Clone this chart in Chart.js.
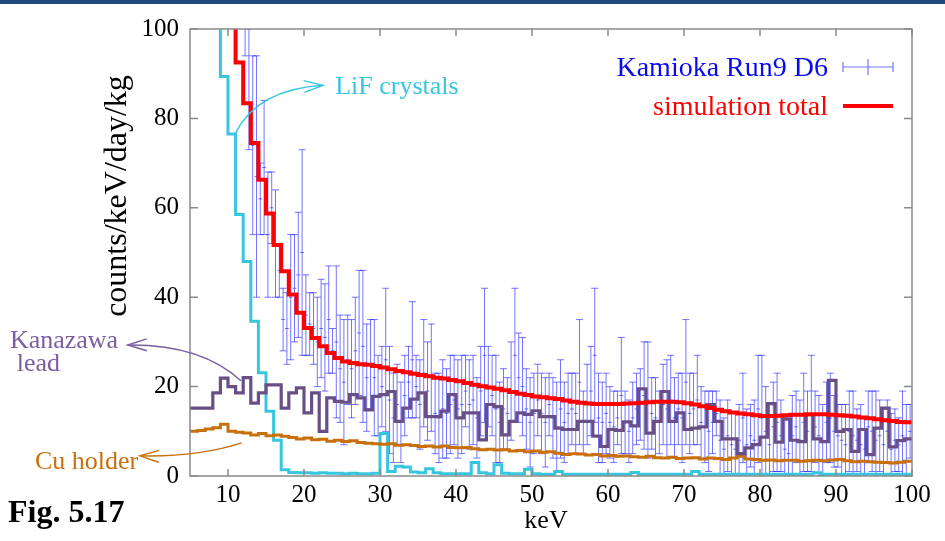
<!DOCTYPE html>
<html><head><meta charset="utf-8">
<script src="https://cdn.jsdelivr.net/npm/chart.js@4.4.1/dist/chart.umd.min.js"></script>
<style>
html,body{margin:0;padding:0;background:#fff;}
#wrap{position:relative;width:945px;height:541px;overflow:hidden;}
#topbar{position:absolute;left:0;top:0;width:945px;height:4px;background:#1f4a7c;}
canvas{position:absolute;left:0;top:0;}
</style></head>
<body><div id="wrap"><canvas id="c" width="945" height="541"></canvas><div id="topbar"></div></div>
<script>
// ---------- tick labels ----------
const xTickValues = [10,20,30,40,50,60,70,80,90,100];
const yTickValues = [0,20,40,60,80,100];

// ---------- simulation histograms: 1 keV bins, edges 5..100 ----------
const histEdges = [5,6,7,8,9,10,11,12,13,14,15,16,17,18,19,20,21,22,23,24,25,26,27,28,29,30,31,32,33,34,35,36,37,38,39,40,41,42,43,44,45,46,47,48,49,50,51,52,53,54,55,56,57,58,59,60,61,62,63,64,65,66,67,68,69,70,71,72,73,74,75,76,77,78,79,80,81,82,83,84,85,86,87,88,89,90,91,92,93,94,95,96,97,98,99,100];

const simTotal = [140,135,130,125,115,106,92.5,83.4,74.5,66.3,58.7,51.7,45.8,40.6,36.5,33.1,30.9,29.0,27.5,26.4,25.6,25.3,25.0,24.9,24.6,24.3,23.9,23.5,23.2,22.9,22.6,22.3,22.0,21.8,21.5,21.2,20.8,20.4,20.1,19.8,19.5,19.2,18.8,18.4,18.1,17.8,17.6,17.4,17.2,16.9,16.6,16.4,16.2,16.1,16.1,16.1,16.1,16.2,16.3,16.4,16.5,16.6,16.6,16.6,16.5,16.3,16.0,15.6,15.2,14.8,14.5,14.2,14.0,13.8,13.6,13.4,13.4,13.5,13.6,13.7,13.7,13.8,13.8,13.8,13.7,13.6,13.5,13.3,13.1,12.9,12.7,12.5,12.3,12.1,12.0];

const lifCrystals = [130,130,130,125,89.4,76.5,58.5,48,34.6,23.1,14.5,8,1.4,0.8,0.7,0.7,0.6,0.7,0.6,0.6,0.5,0.6,0.5,0.5,0.6,9.5,1.0,2.2,2.0,0.9,0.7,1.6,0.7,0.5,0.5,0.5,0.5,3.0,0.7,0.5,2.5,0.6,0.5,0.5,1.5,0.5,0.4,0.4,1.0,0.4,0.4,0.4,0.4,0.4,0.4,0.4,0.4,0.4,0.8,0.4,0.4,0.4,0.4,0.4,0.4,0.4,1.0,0.4,0.4,0.4,0.4,0.4,0.4,0.4,0.4,0.4,0.4,0.4,0.4,0.4,0.4,0.4,0.7,0.4,0.4,0.4,0.4,0.4,0.4,0.4,0.4,0.4,0.4,0.4,0.4];

const kanazawaLead = [15.2,15.2,15.2,18.6,21.9,20.0,18.6,22.0,16.3,18.6,20.4,20.4,15.2,18.6,19.7,14.1,18.6,10.0,17.5,16.7,16.5,18.2,17.5,14.8,17.8,18.2,18.9,12.2,15.2,17.2,18.6,13.3,13.3,14.5,18.2,13.0,14.1,14.1,8.1,16.0,15.5,9.2,12.2,14.1,13.8,14.6,13.3,13.3,10.7,10.4,10.4,12.2,12.2,8.9,6.6,10.4,10.2,12.1,11.2,19.5,9.6,12.2,18.9,12.2,14.1,10.4,10.7,11.0,16.0,12.2,8.3,8.3,5.0,6.3,7.0,8.7,16.2,7.6,12.7,8.0,7.7,13.7,8.3,7.7,21.4,10.0,10.4,5.5,10.4,4.8,10.7,15.2,6.5,7.9,8.3];

const cuHolder = [10.0,10.2,10.5,10.8,11.6,10.0,9.8,9.6,9.2,9.5,9.0,9.2,8.9,8.6,8.3,8.5,8.1,8.2,7.8,8.0,7.7,7.9,7.5,7.3,7.2,7.1,7.2,6.9,7.0,6.8,6.6,6.7,6.5,6.7,6.4,6.3,6.4,6.1,5.9,6.0,5.8,5.9,5.6,5.7,5.4,5.6,5.3,5.4,5.1,4.8,5.0,4.9,4.7,4.8,4.5,4.6,4.4,4.5,4.3,4.2,4.4,4.1,4.0,4.2,3.9,4.0,4.1,3.8,4.0,3.9,3.7,4.0,4.4,3.8,3.7,3.5,3.6,3.4,3.5,3.5,3.3,3.4,3.5,3.4,3.6,3.7,3.4,3.2,3.3,3.2,3.1,3.0,2.9,3.1,3.3];

// ---------- measured data Kamioka Run9 D6: 0.5 keV bins ----------
const dataKeV = [5.25,5.75,6.25,6.75,7.25,7.75,8.25,8.75,9.25,9.75,10.25,10.75,11.25,11.75,12.25,12.75,13.25,13.75,14.25,14.75,15.25,15.75,16.25,16.75,17.25,17.75,18.25,18.75,19.25,19.75,20.25,20.75,21.25,21.75,22.25,22.75,23.25,23.75,24.25,24.75,25.25,25.75,26.25,26.75,27.25,27.75,28.25,28.75,29.25,29.75,30.25,30.75,31.25,31.75,32.25,32.75,33.25,33.75,34.25,34.75,35.25,35.75,36.25,36.75,37.25,37.75,38.25,38.75,39.25,39.75,40.25,40.75,41.25,41.75,42.25,42.75,43.25,43.75,44.25,44.75,45.25,45.75,46.25,46.75,47.25,47.75,48.25,48.75,49.25,49.75,50.25,50.75,51.25,51.75,52.25,52.75,53.25,53.75,54.25,54.75,55.25,55.75,56.25,56.75,57.25,57.75,58.25,58.75,59.25,59.75,60.25,60.75,61.25,61.75,62.25,62.75,63.25,63.75,64.25,64.75,65.25,65.75,66.25,66.75,67.25,67.75,68.25,68.75,69.25,69.75,70.25,70.75,71.25,71.75,72.25,72.75,73.25,73.75,74.25,74.75,75.25,75.75,76.25,76.75,77.25,77.75,78.25,78.75,79.25,79.75,80.25,80.75,81.25,81.75,82.25,82.75,83.25,83.75,84.25,84.75,85.25,85.75,86.25,86.75,87.25,87.75,88.25,88.75,89.25,89.75,90.25,90.75,91.25,91.75,92.25,92.75,93.25,93.75,94.25,94.75,95.25,95.75,96.25,96.75,97.25,97.75,98.25,98.75,99.25,99.75];
const dataVal = [420,400,380,350,330,300,280,250,230,210,190,175,160,150,125,100,74,67,62,69,54,60,52,46,35,33,40,42,45,50,36,34,33,30,33,31,35,28,30,24,21,26,24,28,32,29,22,25,22,18,20,26,17,13,16,12,18,21,26,20,16,23,19,22,14,13,15,14,16,17,15,16,19,16,17,13,19,27,20,18,15,12,15,14,19,27,22,20,15,12,14,17,14,12,16,13,11,15,12,14,15,14,21,12,16,19,27,13,12,14,12,11,13,18,12,10,13,15,16,18,17,14,13,12,16,15,17,13,15,13,21,14,15,17,12,11,10,12,14,8,6,9,7,6,8,13,7,9,8,15,13,10,7,11,12,9,6,5,9,11,8,12,10,14,11,9,8,12,13,10,9,8,7,10,9,8,7,6,11,10,8,9,7,10,6,8,7,9,8,10];
const dataErr = [59,58,56,54,52,50,48,46,44,42,40,38,36,35,31,27,20,27,8,15,14,8,12,6,7,8,14,12,14,23,9,7,8,10,11,12,12,5,17,12,14,10,11,12,14,17,12,10,13,9,9,16,12,10,9,9,9,8,13,7,10,12,11,12,9,10,11,10,11,10,11,11,8,10,10,9,10,15,9,9,12,9,9,8,11,15,10,11,9,10,9,8,9,10,7,9,10,11,9,9,8,9,14,7,9,10,15,10,9,9,8,8,6,13,7,7,8,8,8,12,13,8,9,7,9,11,10,9,8,10,14,9,8,10,8,8,9,7,5,9,7,8,7,8,8,10,8,7,9,12,14,10,9,10,11,8,7,8,9,8,9,11,9,13,8,9,8,9,10,8,7,8,9,9,10,7,9,7,8,9,11,8,8,7,8,7,6,10,8,6];

// ---------- build library data ----------
function histPoints(edges, vals){
  const pts = vals.map((v,i)=>({x:edges[i], y:v}));
  pts.push({x:edges[edges.length-1], y:vals[vals.length-1]});
  return pts;
}
const errColor = 'rgba(25,25,255,0.6)';
const barData = dataKeV.map((k,i)=>({x:k, y:[dataVal[i]-dataErr[i], dataVal[i]+dataErr[i]]}));
const capHi = dataKeV.map((k,i)=>({x:k, y:dataVal[i]+dataErr[i]}));
const capLo = dataKeV.map((k,i)=>({x:k, y:dataVal[i]-dataErr[i]}));
const ctrPts = dataKeV.map((k,i)=>({x:k, y:dataVal[i]}));

const SERIF = '"Liberation Serif","DejaVu Serif",serif';
const RED='#ff0000', CYAN='#38c6de', PURPLE='#685086', ORANGE='#c8700c';

const decor = {
  id:'decor',
  beforeDraw(chart){
    const c=chart.ctx; c.save(); c.fillStyle='#fff'; c.fillRect(0,0,chart.width,chart.height); c.restore();
  },
  afterDraw(chart){
    const c = chart.ctx, a = chart.chartArea, X = chart.scales.x, Y = chart.scales.y;
    const P = (kx,vy)=>[X.getPixelForValue(kx), Y.getPixelForValue(vy)];
    c.save();
    // frame
    c.strokeStyle='#8a8a8a'; c.lineWidth=1.5;
    c.strokeRect(a.left, a.top, a.right-a.left, a.bottom-a.top);
    // inward ticks on all four sides
    c.beginPath();
    xTickValues.forEach(v=>{const px=X.getPixelForValue(v); c.moveTo(px,a.bottom); c.lineTo(px,a.bottom-7); c.moveTo(px,a.top); c.lineTo(px,a.top+7);});
    yTickValues.forEach(v=>{const py=Y.getPixelForValue(v); c.moveTo(a.left,py); c.lineTo(a.left+8,py); c.moveTo(a.right,py); c.lineTo(a.right-8,py);});
    c.stroke();

    // arrows (anchored in data coordinates)
    function arrow(p0, cp, tip, color, back){
      const [x0,y0]=P(...p0), [cx,cy]=P(...cp), [tx,ty]=P(...tip);
      c.strokeStyle=color; c.lineWidth=1.4;
      c.beginPath(); c.moveTo(x0,y0); c.quadraticCurveTo(cx,cy,tx,ty); c.stroke();
      const ang=Math.atan2(ty-cy, tx-cx);
      c.beginPath();
      c.moveTo(tx-back*Math.cos(ang-0.3), ty-back*Math.sin(ang-0.3));
      c.lineTo(tx,ty);
      c.lineTo(tx-back*Math.cos(ang+0.3), ty-back*Math.sin(ang+0.3));
      c.stroke();
    }
    arrow([10.97,76.7],[13.9,86.5],[22.5,87.4],CYAN,20);
    arrow([11.7,21.3],[6.5,29.5],[-3.2,29.3],'#7a5ea0',20);
    arrow([11.8,7.4],[6.0,4.2],[-1.6,4.5],ORANGE,20);

    // annotation texts
    c.textBaseline='middle'; c.textAlign='left';
    c.font='26px '+SERIF;
    c.fillStyle=CYAN; let q=P(24.1,87.0); c.fillText('LiF crystals', q[0], q[1]);
    c.fillStyle='#7a5ea0'; q=P(-18.7,30.2); c.fillText('Kanazawa', q[0], q[1]);
    q=P(-17.8,25.0); c.fillText('lead', q[0], q[1]);
    c.fillStyle=ORANGE; q=P(-15.4,3.2); c.fillText('Cu holder', q[0], q[1]);

    // legend (inside top-right)
    c.font='28px '+SERIF; c.textAlign='right';
    c.fillStyle='#0a0af0'; c.fillText('Kamioka Run9 D6', 828, 69);
    c.fillStyle=RED; c.fillText('simulation total', 828, 108);
    c.strokeStyle='rgba(30,30,255,0.6)'; c.lineWidth=1.2;
    c.beginPath(); c.moveTo(843,67); c.lineTo(893,67);
    c.moveTo(843,62); c.lineTo(843,72); c.moveTo(893,62); c.lineTo(893,72);
    c.moveTo(868,59); c.lineTo(868,75); c.stroke();
    c.strokeStyle=RED; c.lineWidth=4;
    c.beginPath(); c.moveTo(843,106); c.lineTo(893,106); c.stroke();

    // axis titles
    c.fillStyle='#000'; c.textAlign='center'; c.font='26px '+SERIF;
    c.fillText('keV', (a.left+a.right)/2 - 5, 521);
    c.font='32px '+SERIF;
    c.save(); c.translate(118, 196); c.rotate(-Math.PI/2);
    c.fillText('counts/keV/day/kg', 0, 0); c.restore();

    // figure label
    c.textAlign='left'; c.font='bold 32px '+SERIF;
    c.fillText('Fig. 5.17', 8, 514);
    c.restore();
  }
};

new Chart(document.getElementById('c'), {
  type:'line',
  data:{datasets:[
    {label:'simulation total', data:histPoints(histEdges, simTotal), stepped:'before', borderColor:RED, borderWidth:4, pointRadius:0, fill:false, order:0},
    {label:'Kanazawa lead', data:histPoints(histEdges, kanazawaLead), stepped:'before', borderColor:PURPLE, borderWidth:3.2, pointRadius:0, fill:false, order:1},
    {label:'Cu holder', data:histPoints(histEdges, cuHolder), stepped:'before', borderColor:ORANGE, borderWidth:3, pointRadius:0, fill:false, order:2},
    {label:'LiF crystals', data:histPoints(histEdges, lifCrystals), stepped:'before', borderColor:CYAN, borderWidth:3, pointRadius:0, fill:false, order:3},
    {type:'scatter', label:'capHi', data:capHi, pointStyle:'line', pointRadius:3.5, borderColor:errColor, borderWidth:1, clip:0, order:6},
    {type:'scatter', label:'capLo', data:capLo, pointStyle:'line', pointRadius:3.5, borderColor:errColor, borderWidth:1, clip:0, order:7},
    {type:'scatter', label:'xerr', data:ctrPts, pointStyle:'line', pointRadius:1.9, borderColor:errColor, borderWidth:1, clip:0, order:8},
    {type:'bar', label:'Kamioka Run9 D6', data:barData, backgroundColor:errColor, borderWidth:0, barThickness:1, inflateAmount:0, clip:0, order:10}
  ]},
  options:{
    responsive:false, animation:false, events:[],
    layout:{padding:{left:0,right:33,top:29,bottom:0}},
    plugins:{legend:{display:false}, tooltip:{enabled:false}},
    scales:{
      x:{type:'linear', min:5, max:100, offset:false,
         grid:{display:false, drawTicks:false}, border:{display:false},
         ticks:{color:'#000', font:{family:SERIF, size:25}, padding:4, maxRotation:0},
         afterBuildTicks:s=>{s.ticks = xTickValues.map(v=>({value:v}));},
         afterFit:s=>{s.height=65;}},
      y:{type:'linear', min:0, max:100,
         grid:{display:false, drawTicks:false}, border:{display:false},
         ticks:{color:'#000', font:{family:SERIF, size:25}, padding:11},
         afterBuildTicks:s=>{s.ticks = yTickValues.map(v=>({value:v}));},
         afterFit:s=>{s.width=190;}}
    }
  },
  plugins:[decor]
});
</script>
</body></html>
